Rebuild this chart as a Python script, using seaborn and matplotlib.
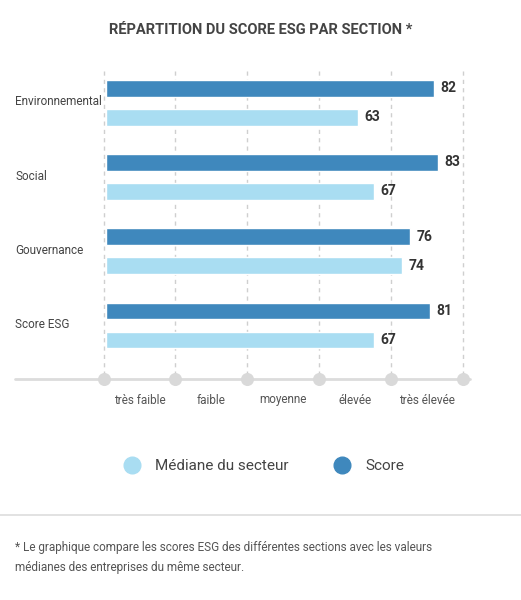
import matplotlib
matplotlib.use("Agg")
import matplotlib.pyplot as plt
import seaborn as sns
import pandas as pd
from matplotlib.lines import Line2D

sections = ["Environnemental", "Social", "Gouvernance", "Score ESG"]
score = [82, 83, 76, 81]
mediane = [63, 67, 74, 67]
levels = ["très faible", "faible", "moyenne", "élevée", "très élevée"]
grid_x = [-0.5, 17.25, 35.25, 53.25, 71.25, 89.25]

sns.set_style("white")
plt.rcParams['font.family'] = ['Roboto', 'DejaVu Sans']

df = pd.DataFrame({
    "section": sections * 2,
    "value": score + mediane,
    "serie": ["Score"] * 4 + ["Médiane du secteur"] * 4,
})
dark, light = "#3f88bd", "#a9ddf2"

fig = plt.figure(figsize=(5.21, 6), dpi=100)
W, H = 521, 600
ax = fig.add_axes([15 / W, 1 - 382 / H, (470 - 15) / W, (382 - 70) / H])
sns.barplot(data=df, y="section", x="value", hue="serie", order=sections,
            hue_order=["Score", "Médiane du secteur"], palette=[dark, light],
            orient="h", width=0.78, gap=0.42, ax=ax, legend=False, saturation=1)
ax.set_xlim(-22.75, 91)
ax.set_ylim(3.76, -0.44)
for s in ax.spines.values():
    s.set_visible(False)
ax.set_xlabel(""); ax.set_ylabel("")
ax.set_xticks([]); ax.set_yticks([])

for gx in grid_x:
    ax.plot([gx, gx], [-0.42, 3.72], ls=(0, (3, 3)), color="#cfcfcf", lw=1, zorder=0)
ax.plot([-22.75, 91], [3.72, 3.72], color="#dcdcdc", lw=2, zorder=1, clip_on=False)
ax.scatter(grid_x, [3.72] * len(grid_x), s=70, color="#d9d9d9", zorder=2, clip_on=False)

for i, (s, m) in enumerate(zip(score, mediane)):
    ax.text(s + 1.7, i - 0.195, str(s), va="center", ha="left", fontsize=10,
            fontweight="bold", color="#333333")
    ax.text(m + 1.7, i + 0.195, str(m), va="center", ha="left", fontsize=10,
            fontweight="bold", color="#333333")
    ax.text(-22.75, i - 0.01, sections[i], va="center", ha="left", fontsize=8.5,
            color="#444444")

for j, lab in enumerate(levels):
    xc = (grid_x[j] + grid_x[j + 1]) / 2
    fig.text((106 + 4 * xc) / W, 1 - 400 / H, lab, ha="center", va="center",
             fontsize=8.5, color="#555555")

fig.text(0.5, 1 - 30 / H, "RÉPARTITION DU SCORE ESG PAR SECTION *", ha="center",
         va="center", fontsize=10.5, fontweight="bold", color="#444444")

handles = [Line2D([], [], marker="o", ls="", color=light, markersize=12),
           Line2D([], [], marker="o", ls="", color=dark, markersize=12)]
fig.legend(handles, ["Médiane du secteur", "Score"], loc="center",
           bbox_to_anchor=(0.5, 1 - 466 / H), ncol=2, frameon=False,
           fontsize=11, handletextpad=0.5, columnspacing=2.5, labelcolor="#444444")

fig.add_artist(Line2D([0, 1], [1 - 515 / H] * 2, color="#dddddd", lw=1.2))
fig.text(15 / W, 1 - 557 / H,
         "* Le graphique compare les scores ESG des différentes sections avec les valeurs\n"
         "médianes des entreprises du même secteur.", ha="left", va="center",
         fontsize=8.5, color="#555555", linespacing=1.7)

fig.savefig("out.png", dpi=100, facecolor="white")
